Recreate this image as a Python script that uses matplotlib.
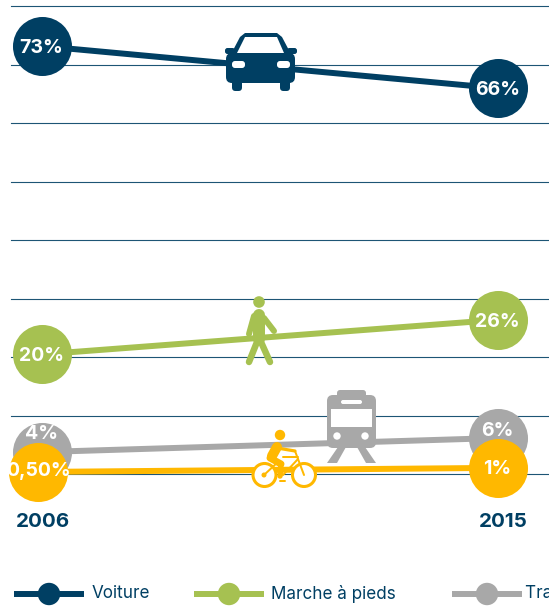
import matplotlib
matplotlib.use("Agg")
import matplotlib.pyplot as plt
from matplotlib.lines import Line2D
from matplotlib.patches import Circle, Polygon, FancyBboxPatch
from matplotlib.transforms import Affine2D

W, H = 549, 606
NAVY = "#003f63"
GREEN = "#a6c151"
GREY = "#a8a8a8"
YELLOW = "#ffb800"
GRID = "#1d5575"
FONT = ["Inter", "DejaVu Sans"]

# values (labels are what is printed in the circles)
years_main = [2006, 2015]
years_velo = [2005.94, 2015]
voiture = [73.2, 66.0]
marche = [20.5, 26.4]
train = [3.8, 6.2]
velo = [0.4, 1.1]
voiture_labels = ["73%", "66%"]
marche_labels = ["20%", "26%"]
train_labels = ["4%", "6%"]
velo_labels = ["0,50%", "1%"]
# grey labels sit high in their circles, above the yellow ones
train_label_y = [6.85, 7.35]
velo_label_y = [0.5, 0.85]
yticks = [0, 10, 20, 30, 40, 50, 60, 70, 80]
year_ticks = [2006.03, 2015.11]
year_labels = ["2006", "2015"]
legend_names = ["Voiture", "Marche à pieds", "Transports en commun"]
legend_colors = [NAVY, GREEN, GREY]
legend_x = [14, 194, 452]
legend_text_x = [92, 271, 525]

fig = plt.figure(figsize=(W / 100, H / 100), dpi=100)
ax = fig.add_axes([11 / W, 1 - 474.3 / H, (W - 11) / W, 468 / H])
x0 = 2006 - (41.5 - 11) / (456 / 9)
x1 = x0 + (W - 11) / (456 / 9)
ax.set_xlim(x0, x1)
ax.set_ylim(0, 80)
for s in ax.spines.values():
    s.set_visible(False)
ax.set_yticks(yticks)
ax.tick_params(axis="y", length=0, labelleft=False)
ax.grid(axis="y", color=GRID, lw=0.8, clip_on=False)
ax.set_axisbelow(True)
ax.set_xticks(year_ticks, year_labels, fontfamily=FONT, fontweight="bold", fontsize=14.8, color=NAVY)
ax.tick_params(axis="x", length=0, pad=28)

px = Affine2D().scale(1, -1).translate(0, H)


def series(xs, ys, labels, color, z, label_y=None):
    ax.plot(xs, ys, color=color, lw=4.3, marker="o", ms=42.5, mew=0,
            solid_capstyle="butt", clip_on=False, zorder=z)
    if label_y is None:
        label_y = [y - 0.35 for y in ys]
    for x, y, lab in zip(xs, label_y, labels):
        ax.text(x, y, lab, color="white", ha="center", va="center", fontfamily=FONT,
                fontweight="bold", fontsize=14, zorder=z + 0.5, clip_on=False)


def add(p):
    p.set_transform(px)
    p.set_clip_on(False)
    p.set_zorder(12)
    ax.add_artist(p)


def box(x, y, w, h, r, color):
    add(FancyBboxPatch((x + r, y + r), w - 2 * r, h - 2 * r, boxstyle=f"round,pad={r}", fc=color, ec="none"))


def stroke(xs, ys, lw, color):
    add(Line2D(xs, ys, color=color, lw=lw * 0.72, solid_capstyle="round", solid_joinstyle="round"))


def draw_car():
    c = NAVY
    add(Polygon([(230, 56), (240, 37), (245, 33), (277, 33), (282, 37), (292, 56)], fc=c, ec="none"))
    add(Polygon([(237, 53), (245, 37), (277, 37), (284, 53)], fc="white", ec="none"))
    box(225, 48, 10, 6, 2.5, c)
    box(287, 48, 10, 6, 2.5, c)
    box(226, 53, 69, 30, 6, c)
    box(232, 78, 10, 13, 3.5, c)
    box(280, 78, 10, 13, 3.5, c)
    box(232, 61, 13, 7, 3, "white")
    box(277, 61, 13, 7, 3, "white")


def draw_walker():
    c = GREEN
    add(Circle((259, 302), 5.8, fc=c, ec="none"))
    stroke([259, 259], [315, 339], 12, c)
    stroke([254, 249], [316, 334], 6, c)
    stroke([264, 274], [318, 331], 6, c)
    stroke([257, 249], [342, 362], 6.5, c)
    stroke([261, 270], [342, 362], 6.5, c)


def draw_train():
    c = GREY
    box(337, 390, 29, 12, 3, c)
    box(327, 395, 49, 53, 6, c)
    add(Polygon([(338, 447), (327, 463), (337, 463), (346, 447)], fc=c, ec="none"))
    add(Polygon([(365, 447), (376, 463), (366, 463), (357, 447)], fc=c, ec="none"))
    box(341, 400, 21, 4, 2, "white")
    add(Polygon([(331, 409), (372, 409), (372, 427), (331, 427)], fc="white", ec="none"))
    add(Circle((337, 436), 3.7, fc="white", ec="none"))
    add(Circle((365, 436), 3.7, fc="white", ec="none"))


def draw_bike():
    c = YELLOW
    add(Circle((264.5, 475), 11.5, fc="white", ec=c, lw=2.2))
    add(Circle((304, 475), 11.5, fc="white", ec=c, lw=2.2))
    add(Circle((280, 435), 5.2, fc=c, ec="none"))
    stroke([277, 272], [447, 456], 10, c)
    stroke([277, 295], [448, 451], 3.2, c)
    stroke([270, 281], [458, 464], 7, c)
    stroke([281, 280], [464, 476], 5.5, c)
    stroke([295, 304], [451, 475], 2, c)
    stroke([264, 279], [475, 461], 2, c)
    stroke([283, 298], [457, 457], 2, c)
    stroke([283, 298], [475, 459], 2, c)
    stroke([280, 285], [481, 481], 2, c)
    add(Circle((264, 475), 2.5, fc=c, ec="none"))


series(years_main, voiture, voiture_labels, NAVY, 5)
series(years_main, marche, marche_labels, GREEN, 5)
series(years_main, train, train_labels, GREY, 5, train_label_y)
series(years_velo, velo, velo_labels, YELLOW, 7, velo_label_y)
draw_car()
draw_walker()
draw_train()
draw_bike()

# legend, cut off by the right edge like the original
for name, color, lx, tx in zip(legend_names, legend_colors, legend_x, legend_text_x):
    add(Line2D([lx, lx + 70], [594, 594], color=color, lw=4.3, solid_capstyle="butt"))
    add(Circle((lx + 35, 594), 11.2, fc=color, ec="none"))
    ax.text(tx, 594, name, transform=px, color=NAVY, fontfamily=FONT, fontsize=12.3,
            va="center", ha="left", clip_on=False)

fig.savefig("out.png", dpi=100)
